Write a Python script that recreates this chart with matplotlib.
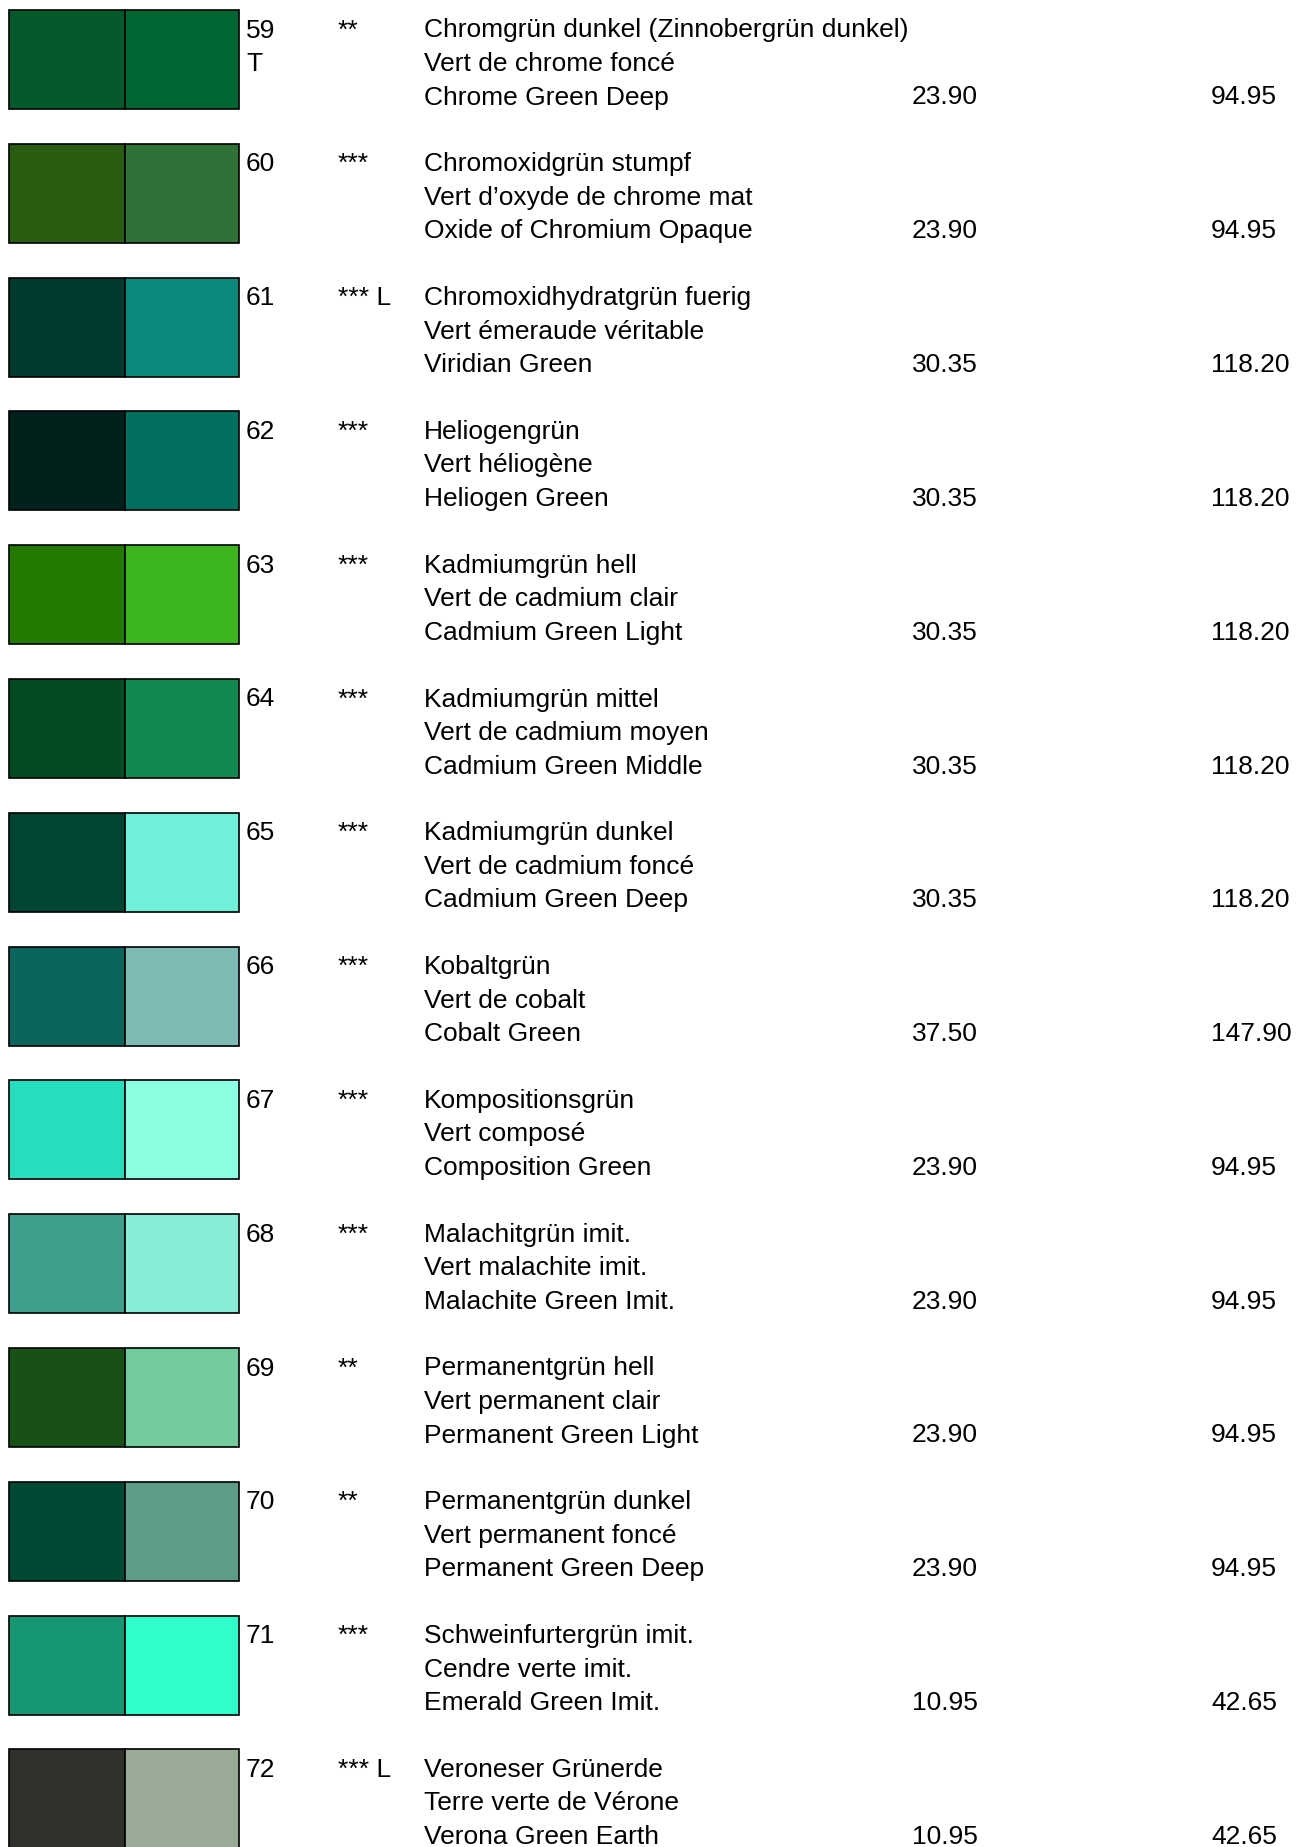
import matplotlib
matplotlib.use('Agg')
import matplotlib.pyplot as plt

plt.rcParams['font.family'] = ['Liberation Sans', 'DejaVu Sans']

# colour card data
numbers = [59, 60, 61, 62, 63, 64, 65, 66, 67, 68, 69, 70, 71, 72]
marks = ['T', '', '', '', '', '', '', '', '', '', '', '', '', '']
stars = ['**', '***', '*** L', '***', '***', '***', '***', '***', '***', '***', '**', '**', '***', '*** L']
names_de = ['Chromgrün dunkel (Zinnobergrün dunkel)', 'Chromoxidgrün stumpf', 'Chromoxidhydratgrün fuerig',
            'Heliogengrün', 'Kadmiumgrün hell', 'Kadmiumgrün mittel', 'Kadmiumgrün dunkel', 'Kobaltgrün',
            'Kompositionsgrün', 'Malachitgrün imit.', 'Permanentgrün hell', 'Permanentgrün dunkel',
            'Schweinfurtergrün imit.', 'Veroneser Grünerde']
names_fr = ['Vert de chrome foncé', 'Vert d\u2019oxyde de chrome mat', 'Vert émeraude véritable',
            'Vert héliogène', 'Vert de cadmium clair', 'Vert de cadmium moyen', 'Vert de cadmium foncé',
            'Vert de cobalt', 'Vert composé', 'Vert malachite imit.', 'Vert permanent clair',
            'Vert permanent foncé', 'Cendre verte imit.', 'Terre verte de Vérone']
names_en = ['Chrome Green Deep', 'Oxide of Chromium Opaque', 'Viridian Green', 'Heliogen Green',
            'Cadmium Green Light', 'Cadmium Green Middle', 'Cadmium Green Deep', 'Cobalt Green',
            'Composition Green', 'Malachite Green Imit.', 'Permanent Green Light', 'Permanent Green Deep',
            'Emerald Green Imit.', 'Verona Green Earth']
price_small = [23.90, 23.90, 30.35, 30.35, 30.35, 30.35, 30.35, 37.50, 23.90, 23.90, 23.90, 23.90, 10.95, 10.95]
price_large = [94.95, 94.95, 118.20, 118.20, 118.20, 118.20, 118.20, 147.90, 94.95, 94.95, 94.95, 94.95, 42.65, 42.65]
color_dark = ['#045A2B', '#2A5C12', '#02392E', '#01221C', '#237A00', '#044A22', '#004534',
              '#0B655C', '#27DEBC', '#3E9F8C', '#185115', '#004934', '#169672', '#30332B']
color_light = ['#026633', '#2F7137', '#0C897B', '#01705E', '#3CB61C', '#118A50', '#70F0D8',
               '#7EBBB4', '#8CFFE2', '#89ECD6', '#71CB9A', '#5D9C89', '#2FFFCB', '#99AB97']

W, H = 1303, 1847
fig = plt.figure(figsize=(W / 100, H / 100), dpi=100)
ax = fig.add_axes([0, 0, 1, 1])
ax.set_xlim(0, W)
ax.set_ylim(H, 0)
ax.axis('off')

pitch = 133.8
top0 = 10
box_h = 99
fs = 19

for i in range(len(numbers)):
    top = top0 + i * pitch
    ax.bar(8.5, box_h, width=116, bottom=top, align='edge', color=color_dark[i], edgecolor='black', linewidth=1.2)
    ax.bar(124.5, box_h, width=114, bottom=top, align='edge', color=color_light[i], edgecolor='black', linewidth=1.2)

    y1 = top + 27.5
    y2 = top + 61
    y3 = top + 94.5
    ax.text(246, y1, str(numbers[i]), fontsize=fs, va='baseline')
    if marks[i]:
        ax.text(246, y2, marks[i], fontsize=fs, va='baseline')
    ax.text(338, y1, stars[i], fontsize=fs, va='baseline')
    ax.text(424, y1, names_de[i], fontsize=fs, va='baseline')
    ax.text(424, y2, names_fr[i], fontsize=fs, va='baseline')
    ax.text(424, y3, names_en[i], fontsize=fs, va='baseline')
    ax.text(912, y3, '%.2f' % price_small[i], fontsize=fs, va='baseline')
    ax.text(1211, y3, '%.2f' % price_large[i], fontsize=fs, va='baseline')

fig.savefig('out.png', dpi=100)
